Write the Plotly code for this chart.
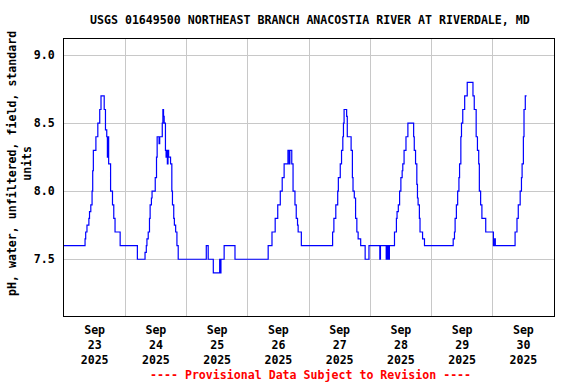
import plotly.graph_objects as go

# Step change points (time, pH)
change_times = [
    "2025-09-23 00:00", "2025-09-23 08:15", "2025-09-23 08:30", "2025-09-23 09:00", "2025-09-23 09:45",
    "2025-09-23 10:00", "2025-09-23 10:30", "2025-09-23 11:00", "2025-09-23 11:15", "2025-09-23 11:30",
    "2025-09-23 12:30", "2025-09-23 13:15", "2025-09-23 14:00", "2025-09-23 14:30", "2025-09-23 15:45",
    "2025-09-23 16:15", "2025-09-23 16:45", "2025-09-23 17:00", "2025-09-23 17:15", "2025-09-23 17:30",
    "2025-09-23 18:15", "2025-09-23 19:00", "2025-09-23 19:30", "2025-09-23 20:00", "2025-09-23 22:00",
    # Sep 24
    "2025-09-24 04:45", "2025-09-24 07:45", "2025-09-24 08:15", "2025-09-24 08:30", "2025-09-24 09:00",
    "2025-09-24 09:30", "2025-09-24 09:45", "2025-09-24 10:15", "2025-09-24 10:30", "2025-09-24 11:45",
    "2025-09-24 12:15", "2025-09-24 12:30", "2025-09-24 13:15", "2025-09-24 13:30", "2025-09-24 14:30",
    "2025-09-24 14:45", "2025-09-24 15:00", "2025-09-24 15:15", "2025-09-24 15:45", "2025-09-24 16:00",
    "2025-09-24 16:15", "2025-09-24 16:30", "2025-09-24 16:45", "2025-09-24 17:00", "2025-09-24 17:45",
    "2025-09-24 18:15", "2025-09-24 18:30", "2025-09-24 19:00", "2025-09-24 19:15", "2025-09-24 19:45",
    "2025-09-24 20:15", "2025-09-24 20:45",
    # Sep 25
    "2025-09-25 07:45", "2025-09-25 08:30", "2025-09-25 10:30", "2025-09-25 13:00", "2025-09-25 13:15",
    "2025-09-25 13:30", "2025-09-25 14:45", "2025-09-25 19:00",
    # Sep 26
    "2025-09-26 08:00", "2025-09-26 09:30", "2025-09-26 10:45", "2025-09-26 11:45", "2025-09-26 12:45",
    "2025-09-26 13:30", "2025-09-26 14:15", "2025-09-26 15:45", "2025-09-26 16:15", "2025-09-26 16:30",
    "2025-09-26 17:15", "2025-09-26 17:45", "2025-09-26 18:30", "2025-09-26 19:00", "2025-09-26 19:30",
    "2025-09-26 19:45", "2025-09-26 21:00",
    # Sep 27
    "2025-09-27 09:15", "2025-09-27 09:45", "2025-09-27 10:30", "2025-09-27 11:15", "2025-09-27 11:30",
    "2025-09-27 12:15", "2025-09-27 12:45", "2025-09-27 13:15", "2025-09-27 13:30", "2025-09-27 13:45",
    "2025-09-27 14:45", "2025-09-27 15:00", "2025-09-27 16:30", "2025-09-27 17:00", "2025-09-27 17:15",
    "2025-09-27 17:45", "2025-09-27 18:15", "2025-09-27 18:45", "2025-09-27 19:15", "2025-09-27 20:15",
    "2025-09-27 22:00", "2025-09-27 23:30",
    # Sep 28
    "2025-09-28 03:45", "2025-09-28 04:00", "2025-09-28 06:15", "2025-09-28 06:30", "2025-09-28 06:45",
    "2025-09-28 07:00", "2025-09-28 07:15", "2025-09-28 07:30", "2025-09-28 09:30", "2025-09-28 10:15",
    "2025-09-28 10:30", "2025-09-28 11:00", "2025-09-28 11:30", "2025-09-28 12:00", "2025-09-28 12:30",
    "2025-09-28 12:45", "2025-09-28 13:15", "2025-09-28 14:00", "2025-09-28 14:45", "2025-09-28 17:00",
    "2025-09-28 17:15", "2025-09-28 17:45", "2025-09-28 18:15", "2025-09-28 18:30", "2025-09-28 18:45",
    "2025-09-28 19:15", "2025-09-28 19:30", "2025-09-28 20:30", "2025-09-28 21:15",
    # Sep 29
    "2025-09-29 08:30", "2025-09-29 09:00", "2025-09-29 09:15", "2025-09-29 09:45", "2025-09-29 10:15",
    "2025-09-29 10:45", "2025-09-29 11:00", "2025-09-29 11:30", "2025-09-29 11:45", "2025-09-29 12:15",
    "2025-09-29 13:00", "2025-09-29 14:00", "2025-09-29 16:15", "2025-09-29 16:45", "2025-09-29 17:30",
    "2025-09-29 18:00", "2025-09-29 18:30", "2025-09-29 18:45", "2025-09-29 19:15", "2025-09-29 19:45",
    "2025-09-29 21:15",
    # Sep 30
    "2025-09-30 00:15", "2025-09-30 00:45", "2025-09-30 01:00", "2025-09-30 08:45", "2025-09-30 09:30",
    "2025-09-30 10:00", "2025-09-30 10:45", "2025-09-30 11:15", "2025-09-30 11:30", "2025-09-30 12:00",
    "2025-09-30 12:15", "2025-09-30 12:45", "2025-09-30 13:15",
]

ph_values = [
    7.6, 7.65, 7.7, 7.75, 7.8,
    7.85, 7.9, 8.0, 8.15, 8.3,
    8.4, 8.5, 8.6, 8.7, 8.6,
    8.45, 8.4, 8.25, 8.4, 8.2,
    8.0, 7.9, 7.8, 7.7, 7.6,
    # Sep 24
    7.5, 7.55, 7.6, 7.65, 7.7,
    7.8, 7.9, 7.95, 8.0, 8.1,
    8.25, 8.4, 8.35, 8.4, 8.5,
    8.6, 8.55, 8.5, 8.3, 8.25,
    8.3, 8.2, 8.3, 8.25, 8.2,
    8.0, 7.9, 7.8, 7.75, 7.7,
    7.6, 7.5,
    # Sep 25
    7.6, 7.5, 7.4, 7.5, 7.4,
    7.5, 7.6, 7.5,
    # Sep 26
    7.6, 7.7, 7.8, 7.9, 8.0,
    8.1, 8.2, 8.3, 8.2, 8.3,
    8.2, 8.0, 7.9, 7.8, 7.75,
    7.7, 7.6,
    # Sep 27
    7.7, 7.8, 7.9, 8.0, 8.1,
    8.2, 8.3, 8.4, 8.5, 8.6,
    8.55, 8.4, 8.3, 8.1, 8.0,
    7.95, 7.8, 7.7, 7.65, 7.6,
    7.5, 7.6,
    # Sep 28
    7.5, 7.6, 7.5, 7.6, 7.5,
    7.6, 7.5, 7.6, 7.7, 7.8,
    7.85, 7.9, 8.0, 8.1, 8.15,
    8.2, 8.3, 8.4, 8.5, 8.4,
    8.3, 8.2, 8.05, 7.95, 7.9,
    7.8, 7.7, 7.65, 7.6,
    # Sep 29
    7.65, 7.7, 7.8, 7.9, 8.0,
    8.1, 8.2, 8.4, 8.5, 8.6,
    8.7, 8.8, 8.7, 8.6, 8.4,
    8.3, 8.2, 8.0, 7.9, 7.8,
    7.7,
    # Sep 30
    7.6, 7.65, 7.6, 7.7, 7.8,
    7.9, 8.0, 8.1, 8.2, 8.4,
    8.6, 8.7, 8.7,
]

y_ticks = [7.5, 8.0, 8.5, 9.0]
title_text = "USGS 01649500 NORTHEAST BRANCH ANACOSTIA RIVER AT RIVERDALE, MD"
y_title = "pH, water, unfiltered, field, standard<br>units"
footer_text = "---- Provisional Data Subject to Revision ----"

FONT = "DejaVu Sans Mono"
FS = 11.6

fig = go.Figure()
fig.add_trace(go.Scatter(
    x=change_times, y=ph_values, mode="lines",
    line=dict(color="#0000ff", width=1.2, shape="hv"),
    hoverinfo="skip", showlegend=False,
))

L, R, T, B = 64, 22, 39, 68
W, H = 576, 384
pw, ph = W - L - R, H - T - B

fig.update_layout(
    width=W, height=H,
    margin=dict(l=L, r=R, t=T, b=B, pad=0),
    paper_bgcolor="white", plot_bgcolor="white",
    font=dict(family=FONT, size=FS, color="black", weight="bold"),
    xaxis=dict(
        range=["2025-09-23 00:00", "2025-10-01 00:00"],
        type="date", tick0="2025-09-23", dtick=86400000,
        tickformat="%b<br>%d<br>%Y", ticklabelmode="period",
        showgrid=True, gridcolor="#c8c8c8", gridwidth=1,
        showline=True, linecolor="black", linewidth=1, mirror=True,
        ticks="", zeroline=False, ticklabelstandoff=3,
        tickfont=dict(family=FONT, size=FS, color="black", weight="bold"),
    ),
    yaxis=dict(
        range=[7.083, 9.118],
        tickvals=y_ticks, tickformat=".1f",
        showgrid=True, gridcolor="#c8c8c8", gridwidth=1,
        showline=True, linecolor="black", linewidth=1, mirror=True,
        ticks="", zeroline=False, ticklabelstandoff=6,
        tickfont=dict(family=FONT, size=FS, color="black", weight="bold"),
    ),
)

def px_x(px):
    return (px - L) / pw

def px_y(py):
    return (H - B - py) / ph

fig.add_annotation(
    text=title_text, xref="paper", yref="paper",
    x=px_x(310), y=px_y(19.5), showarrow=False,
    xanchor="center", yanchor="middle",
    font=dict(family=FONT, size=FS, color="black", weight="bold"),
)
fig.add_annotation(
    text=y_title, xref="paper", yref="paper",
    x=px_x(19), y=px_y(164), showarrow=False, textangle=-90,
    xanchor="center", yanchor="middle",
    font=dict(family=FONT, size=FS, color="black", weight="bold"),
)
fig.add_annotation(
    text=footer_text, xref="paper", yref="paper",
    x=px_x(310), y=px_y(375), showarrow=False,
    xanchor="center", yanchor="middle",
    font=dict(family=FONT, size=FS, color="#ff0000", weight="bold"),
)

fig.write_html(
    "out.html",
    config={"displayModeBar": False, "staticPlot": True},
    post_script="document.body.style.margin='0px';document.body.style.overflow='hidden';",
)
